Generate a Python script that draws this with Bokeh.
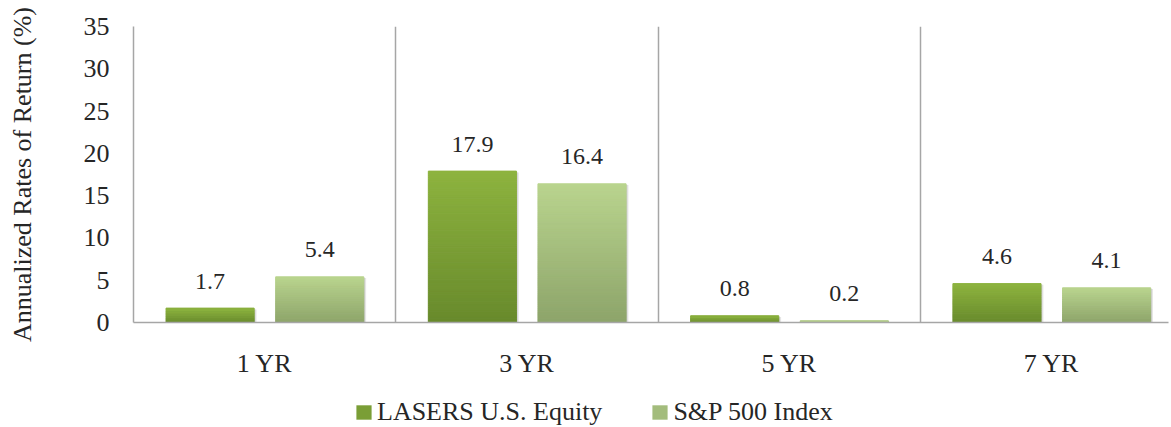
from bokeh.plotting import figure
from bokeh.layouts import column
from bokeh.models import Range1d, FixedTicker, Legend, LegendItem, ColumnDataSource
from bokeh.core.properties import value
from bokeh.embed import file_html
from bokeh.resources import INLINE

categories = ["1 YR", "3 YR", "5 YR", "7 YR"]
series_names = ["LASERS U.S. Equity", "S&P 500 Index"]
lasers = [1.7, 17.9, 0.8, 4.6]
sp500 = [5.4, 16.4, 0.2, 4.1]
y_ticks = [0, 5, 10, 15, 20, 25, 30, 35]

FONT = "Liberation Serif"
TXT = "#262626"
GRID = "#a6a6a6"

# gradient colours (bottom, top)
grad = {
    "lasers": ("#688a2c", "#8db33f"),
    "sp500": ("#8da46a", "#b9d48e"),
}


def h2rgb(h):
    h = h.lstrip("#")
    return tuple(int(h[i:i + 2], 16) for i in (0, 2, 4))


def mix(c1, c2, t):
    a, b = h2rgb(c1), h2rgb(c2)
    return "#%02x%02x%02x" % tuple(round(a[i] + (b[i] - a[i]) * t) for i in range(3))


W = 1171
H1 = 385
H2 = 42

p = figure(width=W, height=H1, output_backend="svg", toolbar_location=None,
           x_range=Range1d(0, 3.946), y_range=Range1d(0, 35),
           min_border_left=133, min_border_top=26, min_border_right=3,
           min_border_bottom=63)
p.outline_line_color = None
p.background_fill_color = "white"
p.border_fill_color = "white"

offsets = [-0.208, 0.21]
bar_w = 0.336
legend_colors = []
for s, (key, vals) in enumerate([("lasers", lasers), ("sp500", sp500)]):
    xs = [i + 0.5 + offsets[s] for i in range(len(vals))]
    # soft shadow
    p.vbar(x=[x + 0.006 for x in xs], top=[v - 0.15 for v in vals],
           bottom=[-1] * len(vals), width=bar_w + 0.006,
           fill_color="#000000", fill_alpha=0.10, line_color=None)
    p.vbar(x=[x + 0.003 for x in xs], top=[v - 0.08 for v in vals],
           bottom=[-1] * len(vals), width=bar_w + 0.003,
           fill_color="#000000", fill_alpha=0.10, line_color=None)
    # gradient bar built from thin slices
    gx, bots, tops, cols = [], [], [], []
    for i, v in enumerate(vals):
        n = max(4, int(v / 0.25))
        for k in range(n):
            gx.append(xs[i])
            bots.append(v * k / n)
            tops.append(v * (k + 1) / n)
            cols.append(mix(grad[key][0], grad[key][1], (k + 0.5) / n))
    src = ColumnDataSource(dict(x=gx, bottom=bots, top=tops, c=cols))
    p.vbar(x="x", bottom="bottom", top="top", width=bar_w, source=src,
           fill_color="c", line_color="c", line_width=1)
    legend_colors.append(mix(grad[key][0], grad[key][1], 0.5))
    # data labels
    lsrc = ColumnDataSource(dict(x=xs, y=vals, t=["%.1f" % v for v in vals]))
    p.text(x="x", y="y", text="t", source=lsrc, text_align="center",
           text_baseline="alphabetic", y_offset=-27, text_color=TXT,
           text_font=value(FONT), text_font_size="24px")

# axes
p.yaxis.ticker = FixedTicker(ticks=y_ticks)
p.yaxis.axis_line_color = GRID
p.yaxis.axis_line_width = 1.5
p.yaxis.major_tick_line_color = None
p.yaxis.minor_tick_line_color = None
p.yaxis.major_label_standoff = 18
p.yaxis.major_label_text_font = FONT
p.yaxis.major_label_text_font_size = "26px"
p.yaxis.major_label_text_color = TXT
p.yaxis.axis_label = "Annualized Rates of Return (%)"
p.yaxis.axis_label_text_font = FONT
p.yaxis.axis_label_text_font_size = "26px"
p.yaxis.axis_label_text_font_style = "normal"
p.yaxis.axis_label_text_color = TXT
p.yaxis.axis_label_standoff = 44

p.xaxis.ticker = FixedTicker(ticks=[i + 0.5 for i in range(len(categories))])
p.xaxis.major_label_overrides = {i + 0.5: c for i, c in enumerate(categories)}
p.xaxis.axis_line_color = GRID
p.xaxis.axis_line_width = 1.5
p.xaxis.major_tick_line_color = None
p.xaxis.minor_tick_line_color = None
p.xaxis.major_label_standoff = 20
p.xaxis.major_label_text_font = FONT
p.xaxis.major_label_text_font_size = "26px"
p.xaxis.major_label_text_color = TXT

p.ygrid.grid_line_color = None
p.xgrid.ticker = FixedTicker(ticks=[1, 2, 3])
p.xgrid.grid_line_color = GRID
p.xgrid.grid_line_width = 1.5

# legend in its own strip below the chart
p2 = figure(width=W, height=H2, output_backend="svg", toolbar_location=None,
            x_range=Range1d(0, 1), y_range=Range1d(0, 1),
            x_axis_type=None, y_axis_type=None,
            min_border_left=0, min_border_right=0, min_border_top=0,
            min_border_bottom=0)
p2.outline_line_color = None
p2.grid.grid_line_color = None
proxies = [p2.vbar(x=[0.5], top=[0], bottom=[0], width=0.1,
                   fill_color=c, line_color=None) for c in legend_colors]
legend = Legend(items=[LegendItem(label=series_names[j], renderers=[proxies[j]])
                       for j in range(2)],
                orientation="horizontal", location=(221, 0),
                label_text_font=FONT, label_text_font_size="26px",
                label_text_color=TXT, glyph_width=19, glyph_height=18,
                label_height=18, label_standoff=4, spacing=48, padding=0,
                margin=0, border_line_color=None, background_fill_alpha=0)
p2.add_layout(legend, "center")

open("out.html", "w").write(file_html(column(p, p2, spacing=0), INLINE))
